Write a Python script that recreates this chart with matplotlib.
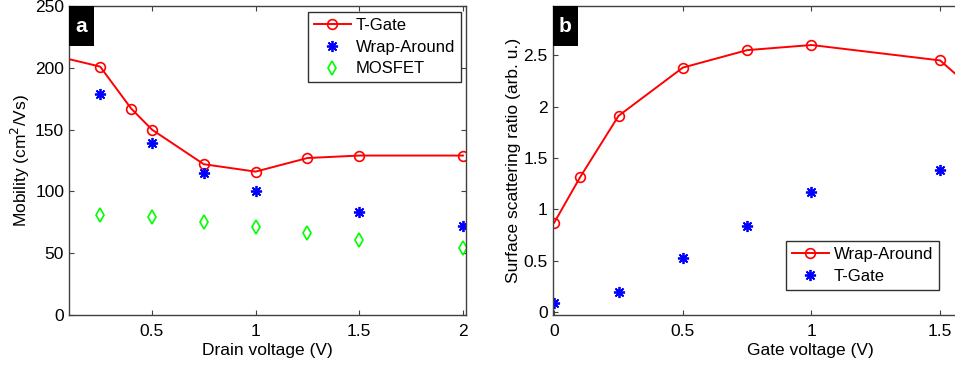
import matplotlib
matplotlib.use('Agg')
import matplotlib.pyplot as plt
from matplotlib.patches import Rectangle

plt.rcParams['font.family'] = ['Liberation Sans', 'DejaVu Sans']
plt.rcParams['font.size'] = 12.5

# panel a: mobility vs drain voltage
vd_tgate = [0.0, 0.25, 0.4, 0.5, 0.75, 1.0, 1.25, 1.5, 2.0]
mob_tgate = [211, 201, 167, 150, 122, 116, 127, 129, 129]
vd_wrap = [0.25, 0.5, 0.75, 1.0, 1.5, 2.0]
mob_wrap = [179, 139, 115, 100, 83, 72]
vd_mos = [0.25, 0.5, 0.75, 1.0, 1.25, 1.5, 2.0]
mob_mos = [81, 79, 75.5, 71, 66.5, 61, 54.5]

# panel b: surface scattering ratio vs gate voltage
vg_wrap = [0.0, 0.1, 0.25, 0.5, 0.75, 1.0, 1.5, 1.75]
ssr_wrap = [0.87, 1.31, 1.91, 2.38, 2.55, 2.60, 2.45, 1.90]
vg_tgate = [0.0, 0.25, 0.5, 0.75, 1.0, 1.5]
ssr_tgate = [0.085, 0.195, 0.525, 0.84, 1.17, 1.38]

spine_col = '#404040'
asterisk = (8, 2, 0)   # MATLAB-like '*' marker


def style_axes(ax):
    for s in ax.spines.values():
        s.set_color(spine_col)
        s.set_linewidth(1.0)
    ax.tick_params(direction='in', top=True, right=True, length=3.5,
                   width=0.8, color=spine_col)
    ax.tick_params(axis='x', pad=6.5)
    ax.tick_params(axis='y', pad=3.5)


def panel_tag(ax, letter, w_frac, h_frac):
    ax.add_patch(Rectangle((0, 1 - h_frac), w_frac, h_frac, transform=ax.transAxes,
                           facecolor='black', edgecolor='none', zorder=10, clip_on=False))
    ax.text(w_frac / 2, 1 - h_frac / 2, letter, transform=ax.transAxes, color='white',
            fontsize=15, fontweight='bold', ha='center', va='center', zorder=11)


def add_legend(ax, **kw):
    leg = ax.legend(fancybox=False, framealpha=1, edgecolor='#303030', fontsize=12,
                    handlelength=2.2, borderaxespad=0, borderpad=0.35,
                    labelspacing=0.4, handletextpad=0.3, **kw)
    leg.get_frame().set_linewidth(1.0)
    return leg


fig = plt.figure(figsize=(9.55, 3.66), dpi=100)

ax1 = fig.add_axes([69 / 955, 51 / 366, 397 / 955, 309 / 366])
ax1.plot(vd_tgate, mob_tgate, color='red', marker='o', markersize=7,
         markerfacecolor='none', markeredgewidth=1.2, linewidth=1.4, label='T-Gate')
ax1.plot(vd_wrap, mob_wrap, linestyle='none', color='blue', marker=asterisk,
         markersize=8, markeredgewidth=1.3, label='Wrap-Around')
ax1.plot(vd_mos, mob_mos, linestyle='none', color='#00ff00', marker='d',
         markersize=7, markerfacecolor='none', markeredgewidth=1.2, label='MOSFET')
ax1.set_xlim(0.1, 2.015)
ax1.set_ylim(0, 250)
ax1.set_xticks([0.5, 1, 1.5, 2])
ax1.set_xticklabels(['0.5', '1', '1.5', '2'])
ax1.set_yticks([0, 50, 100, 150, 200, 250])
ax1.set_xlabel('Drain voltage (V)', labelpad=3)
ax1.set_ylabel('Mobility (cm$^2$/Vs)', labelpad=2)
style_axes(ax1)
add_legend(ax1, loc='upper right', bbox_to_anchor=(0.987, 0.98))
panel_tag(ax1, 'a', 25 / 397, 40 / 309)

ax2 = fig.add_axes([552.7 / 955, 51 / 366, 516 / 955, 309 / 366])
ax2.plot(vg_wrap, ssr_wrap, color='red', marker='o', markersize=7,
         markerfacecolor='none', markeredgewidth=1.2, linewidth=1.4, label='Wrap-Around')
ax2.plot(vg_tgate, ssr_tgate, linestyle='none', color='blue', marker=asterisk,
         markersize=8, markeredgewidth=1.3, label='T-Gate')
ax2.set_xlim(-0.006, 2.0)
ax2.set_ylim(-0.03, 2.98)
ax2.set_xticks([0, 0.5, 1, 1.5])
ax2.set_xticklabels(['0', '0.5', '1', '1.5'])
ax2.set_yticks([0, 0.5, 1, 1.5, 2, 2.5])
ax2.set_yticklabels(['0', '0.5', '1', '1.5', '2', '2.5'])
ax2.set_xlabel('Gate voltage (V)', labelpad=3)
ax2.set_ylabel('Surface scattering ratio (arb. u.)', labelpad=2)
style_axes(ax2)
add_legend(ax2, loc='lower right', bbox_to_anchor=(0.7487, 0.082))
panel_tag(ax2, 'b', 25 / 516, 40 / 309)

fig.savefig('out.png', dpi=100)
